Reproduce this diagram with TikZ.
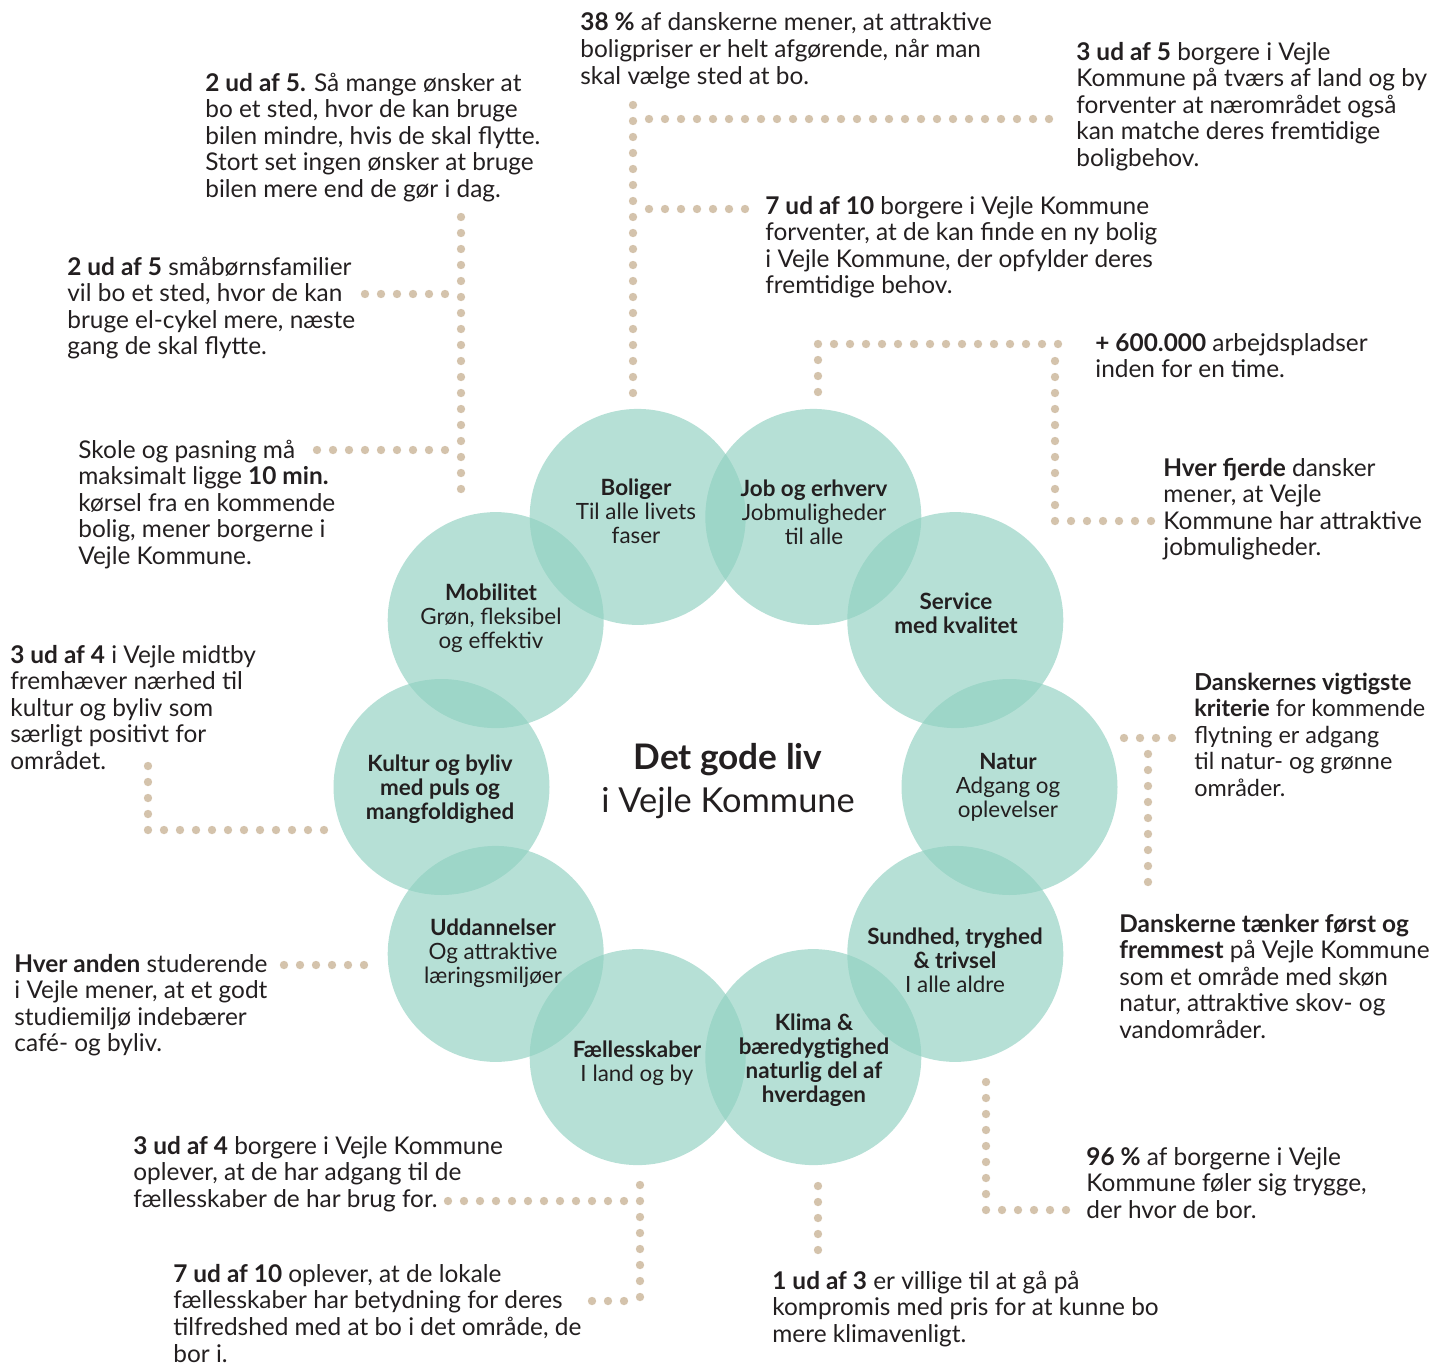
\documentclass[tikz,border=0pt]{standalone}
\usepackage{fontspec}
\setmainfont{Lato}
\definecolor{ink}{RGB}{35,31,32}
\definecolor{bubblec}{RGB}{143,208,192}
\definecolor{dotc}{RGB}{212,195,172}
\begin{document}
\begin{tikzpicture}[x=0.5pt,y=-0.5pt]
\tikzset{
  bubble/.style={circle, fill=bubblec, fill opacity=0.65, draw=none, minimum size=108pt, inner sep=0pt},
  note/.style={anchor=base west, align=left, inner sep=0pt, text=ink, font=\fontsize{12.2}{13.3}\selectfont},
  circtext/.style={anchor=base, align=center, inner sep=0pt, text=ink, font=\fontsize{11.2}{12}\selectfont},
  dots/.style={draw=dotc, line width=4.2pt, line cap=round, dash pattern=on 0pt off 8pt},
}
\useasboundingbox (0,0) rectangle (1434,1365);

% circles
\node[bubble] (kultur)   at (441.5,787) {};
\node[bubble] (mobil)    at (495.7,620.1) {};
\node[bubble] (boliger)  at (637.7,516.9) {};
\node[bubble] (job)      at (813.3,516.9) {};
\node[bubble] (service)  at (955.3,620.1) {};
\node[bubble] (natur)    at (1009.5,787) {};
\node[bubble] (sundhed)  at (955.3,953.9) {};
\node[bubble] (klima)    at (813.3,1057.1) {};
\node[bubble] (faelles)  at (637.7,1057.1) {};
\node[bubble] (uddan)    at (495.7,953.9) {};

% dotted connectors
\coordinate (p1a) at (633,105);  \coordinate (p1b) at (633,393);
\coordinate (p1c) at (649,119);  \coordinate (p1d) at (1060,119);
\coordinate (p1e) at (649,209);  \coordinate (p1f) at (748,209);
\draw[dots] (p1a) -- (p1b);
\draw[dots] (p1c) -- (p1d);
\draw[dots] (p1e) -- (p1f);

\coordinate (p2a) at (461,217);  \coordinate (p2b) at (461,497);
\coordinate (p2c) at (445,294);  \coordinate (p2d) at (365,294);
\coordinate (p2e) at (445,450);  \coordinate (p2f) at (316,450);
\draw[dots] (p2a) -- (p2b);
\draw[dots] (p2c) -- (p2d);
\draw[dots] (p2e) -- (p2f);

\coordinate (p3a) at (818,392);  \coordinate (p3b) at (818,344);
\coordinate (p3c) at (1072,344);
\draw[dots] (p3a) -- (p3b) -- (p3c);
\coordinate (p4a) at (1055,361); \coordinate (p4b) at (1055,521);
\coordinate (p4c) at (1151,521);
\draw[dots] (p4a) -- (p4b) -- (p4c);

\coordinate (p5a) at (1124,738); \coordinate (p5b) at (1176,738);
\coordinate (p5c) at (1148,754); \coordinate (p5d) at (1148,894);
\draw[dots] (p5a) -- (p5b);
\draw[dots] (p5c) -- (p5d);

\coordinate (p6a) at (148,766);  \coordinate (p6b) at (148,830);
\coordinate (p6c) at (324,830);
\draw[dots] (p6a) -- (p6b) -- (p6c);

\coordinate (p7a) at (284,965);  \coordinate (p7b) at (366,965);
\draw[dots] (p7a) -- (p7b);

\coordinate (p8a) at (448,1201); \coordinate (p8b) at (624,1201);
\coordinate (p8c) at (640,1185); \coordinate (p8d) at (640,1301);
\coordinate (p8e) at (624,1301); \coordinate (p8f) at (584,1301);
\draw[dots] (p8a) -- (p8b);
\draw[dots] (p8c) -- (p8d);
\draw[dots] (p8e) -- (p8f);

\coordinate (p9a) at (818,1186); \coordinate (p9b) at (818,1253);
\draw[dots] (p9a) -- (p9b);

\coordinate (p10a) at (986,1082); \coordinate (p10b) at (986,1210);
\coordinate (p10c) at (1070,1210);
\draw[dots] (p10a) -- (p10b) -- (p10c);

% circle labels (anchored at the baseline of the last line)
\node[circtext] (tboliger) at (636,543) {\textbf{Boliger}\\Til alle livets\\faser};
\node[circtext] (tjob) at (814,544) {\textbf{Job og erhverv}\\Jobmuligheder\\til alle};
\node[circtext] (tservice) at (956,633) {\textbf{Service}\\\textbf{med kvalitet}};
\node[circtext] (tmobil) at (491,648) {\textbf{Mobilitet}\\Grøn, fleksibel\\og effektiv};
\node[circtext] (tkultur) at (440,819) {\textbf{Kultur og byliv}\\\textbf{med puls og}\\\textbf{mangfoldighed}};
\node[circtext] (tnatur) at (1008,817) {\textbf{Natur}\\Adgang og\\oplevelser};
\node[circtext] (tuddan) at (493,983) {\textbf{Uddannelser}\\Og attraktive\\læringsmiljøer};
\node[circtext] (tsundhed) at (955,992) {\textbf{Sundhed, tryghed}\\\textbf{\& trivsel}\\I alle aldre};
\node[circtext] (tfaelles) at (637,1081) {\textbf{Fællesskaber}\\I land og by};
\node[circtext] (tklima) at (814,1102) {\textbf{Klima \&}\\\textbf{bæredygtighed}\\\textbf{naturlig del af}\\\textbf{hverdagen}};

% title
\node[anchor=base, inner sep=0pt, text=ink, font=\fontsize{17.6}{22}\selectfont\bfseries] (title1) at (728,769) {Det gode liv};
\node[anchor=base, inner sep=0pt, text=ink, font=\fontsize{17.2}{20}\selectfont] (title2) at (728,812) {i Vejle Kommune};

% annotations (anchored at the baseline of the last line)
\node[note] (n1) at (580,84.2) {\textbf{38 \%} af danskerne mener, at attraktive\\boligpriser er helt afgørende, når man\\skal vælge sted at bo.};
\node[note] (n2) at (1076,166.4) {\textbf{3 ud af 5} borgere i Vejle\\Kommune på tværs af land og by\\forventer at nærområdet også\\kan matche deres fremtidige\\boligbehov.};
\node[note] (n3) at (205,197.4) {\textbf{2 ud af 5.} Så mange ønsker at\\bo et sted, hvor de kan bruge\\bilen mindre, hvis de skal flytte.\\Stort set ingen ønsker at bruge\\bilen mere end de gør i dag.};
\node[note] (n4) at (765,293.8) {\textbf{7 ud af 10} borgere i Vejle Kommune\\forventer, at de kan finde en ny bolig\\i Vejle Kommune, der opfylder deres\\fremtidige behov.};
\node[note] (n5) at (67,354.8) {\textbf{2 ud af 5} småbørnsfamilier\\vil bo et sted, hvor de kan\\bruge el-cykel mere, næste\\gang de skal flytte.};
\node[note] (n6) at (1095,377.6) {\textbf{+ 600.000} arbejdspladser\\inden for en time.};
\node[note] (n7) at (78,564.4) {Skole og pasning må\\maksimalt ligge \textbf{10 min.}\\kørsel fra en kommende\\bolig, mener borgerne i\\Vejle Kommune.};
\node[note] (n8) at (1163,555.8) {\textbf{Hver fjerde} dansker\\mener, at Vejle\\Kommune har attraktive\\jobmuligheder.};
\node[note] (n9) at (10,769.4) {\textbf{3 ud af 4} i Vejle midtby\\fremhæver nærhed til\\kultur og byliv som\\særligt positivt for\\området.};
\node[note, font=\fontsize{11.7}{13.3}\selectfont] (n10) at (1194,796.4) {\textbf{Danskernes vigtigste}\\\textbf{kriterie} for kommende\\flytning er adgang\\til natur- og grønne\\områder.};
\node[note] (n11) at (1119,1038.4) {\textbf{Danskerne tænker først og}\\\textbf{fremmest} på Vejle Kommune\\som et område med skøn\\natur, attraktive skov- og\\vandområder.};
\node[note] (n12) at (14,1051.8) {\textbf{Hver anden} studerende\\i Vejle mener, at et godt\\studiemiljø indebærer\\café- og byliv.};
\node[note] (n13) at (133,1207.2) {\textbf{3 ud af 4} borgere i Vejle Kommune\\oplever, at de har adgang til de\\fællesskaber de har brug for.};
\node[note] (n14) at (1086,1218.2) {\textbf{96 \%} af borgerne i Vejle\\Kommune føler sig trygge,\\der hvor de bor.};
\node[note] (n15) at (173,1362) {\textbf{7 ud af 10} oplever, at de lokale\\fællesskaber har betydning for deres\\tilfredshed med at bo i det område, de\\bor i.};
\node[note] (n16) at (772,1342.2) {\textbf{1 ud af 3} er villige til at gå på\\kompromis med pris for at kunne bo\\mere klimavenligt.};
\end{tikzpicture}
\end{document}
